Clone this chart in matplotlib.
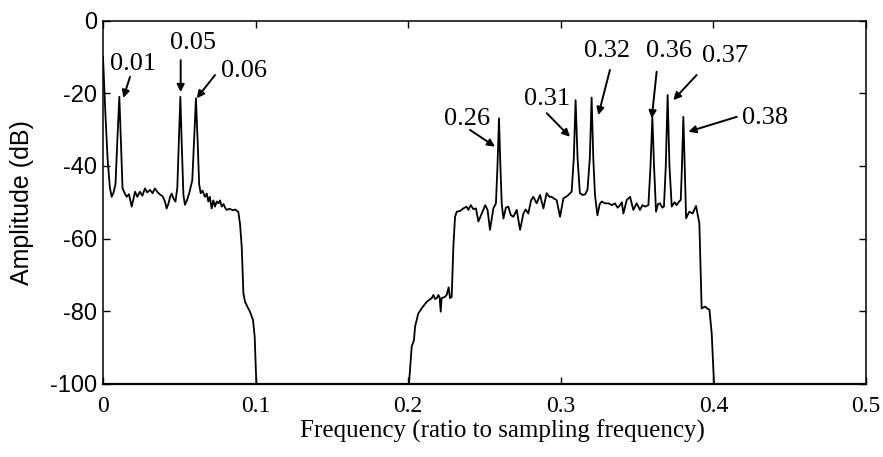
import matplotlib
matplotlib.use("Agg")
import matplotlib.pyplot as plt
import numpy as np

# ---------------- data ----------------
band1_freq = [0.0, 0.0015, 0.003, 0.0045, 0.0057, 0.0068, 0.0082, 0.0095, 0.0107, 0.0118,
              0.0128, 0.0142, 0.0155, 0.0170, 0.0188, 0.0200, 0.0210, 0.0225, 0.0242, 0.0258,
              0.0275, 0.0290, 0.0308, 0.0325, 0.0340, 0.0357, 0.0374, 0.0390, 0.0406, 0.0417,
              0.0428, 0.0440, 0.0450, 0.0462, 0.0475, 0.0487, 0.0498, 0.0507, 0.0516, 0.0527,
              0.0537, 0.0550, 0.0565, 0.0585, 0.0598, 0.0609, 0.0620, 0.0630, 0.0640, 0.0652,
              0.0668, 0.0680, 0.0690, 0.0700, 0.0712, 0.0723, 0.0734, 0.0745, 0.0756, 0.0767,
              0.0778, 0.0790, 0.0800, 0.0810, 0.0830, 0.0850, 0.0865, 0.0876, 0.0887, 0.0898,
              0.0909, 0.0920, 0.0931, 0.0947, 0.0963, 0.0983, 0.0994, 0.1005]
band1_db = [-10, -25, -38, -46, -48.5, -47.5, -45, -32, -21, -34,
            -46.2, -47.5, -48.5, -47.8, -51.2, -49, -47.1, -48.5, -47.1, -48.2,
            -46.2, -47.3, -46.6, -47.5, -46.2, -47.2, -47.9, -48.3, -49.8, -51.7,
            -50.5, -48.5, -47.6, -49.0, -49.8, -46, -32, -21, -34, -48,
            -50.7, -49.5, -47.5, -44, -32, -21.4, -33, -45, -47.5, -46.8,
            -48.5, -47.6, -49.8, -48.5, -51.7, -49.5, -51.2, -49.8, -50.3, -49.5,
            -51.2, -50.5, -51.5, -52.1, -51.8, -52.2, -52.0, -52.3, -52.7, -56,
            -62.2, -75, -77.4, -78.8, -80.1, -82.4, -87, -100]

band2_freq = [0.2005, 0.2023, 0.2038, 0.2045, 0.2066, 0.2088, 0.2121, 0.2140, 0.2154, 0.2165,
              0.2176, 0.2187, 0.2198, 0.2206, 0.2213, 0.2219, 0.2241, 0.2252, 0.2265, 0.2274,
              0.2285, 0.2296, 0.2307, 0.2318, 0.2340, 0.2361, 0.2383, 0.2394, 0.2410, 0.2427,
              0.2444, 0.2460, 0.2482, 0.2505, 0.2520, 0.2536, 0.2558, 0.2575, 0.2585, 0.2595,
              0.2604, 0.2613, 0.2624, 0.2640, 0.2656, 0.2672, 0.2689, 0.2711, 0.2733, 0.2755,
              0.2770, 0.2787, 0.2805, 0.2820, 0.2842, 0.2864, 0.2886, 0.2907, 0.2925, 0.2940,
              0.2955, 0.2973, 0.2995, 0.3017, 0.3035, 0.3049, 0.3071, 0.3085, 0.3097, 0.3110,
              0.3125, 0.3143, 0.3160, 0.3175, 0.3190, 0.3202, 0.3213, 0.3224, 0.3240, 0.3255,
              0.3268, 0.3290, 0.3312, 0.3335, 0.3355, 0.3372, 0.3388, 0.3400, 0.3410, 0.3432,
              0.3454, 0.3475, 0.3497, 0.3519, 0.3535, 0.3552, 0.3574, 0.3588, 0.3600, 0.3611,
              0.3624, 0.3637, 0.3650, 0.3665, 0.3676, 0.3688, 0.3700, 0.3712, 0.3727, 0.3745,
              0.3759, 0.3775, 0.3786, 0.3794, 0.3803, 0.3812, 0.3821, 0.3842, 0.3864, 0.3886,
              0.3908, 0.3923, 0.3945, 0.3960, 0.3974, 0.3989, 0.4004]
band2_db = [-100, -89.7, -87.9, -84.2, -80.6, -79.2, -77.4, -76.8, -76.4, -75.5,
            -76.6, -76.4, -75.5, -76.2, -80.1, -76.4, -76.0, -75.5, -73.4, -76.4,
            -76.0, -62.2, -54.0, -52.6, -52.4, -51.7, -51.2, -52.1, -50.8, -51.9,
            -51.7, -55.3, -53.1, -50.8, -52.1, -57.6, -51.7, -50.3, -40, -26.9,
            -40, -50.5, -54.5, -51.5, -51.2, -53.5, -54.0, -52.1, -57.6, -53.1,
            -52.0, -53.1, -49.5, -48.5, -50.3, -48.0, -51.7, -47.5, -48.5, -48.5,
            -49.0, -49.4, -54.0, -48.9, -48.5, -48.0, -47.1, -38, -21.9, -38,
            -47.5, -48.0, -47.8, -46.5, -38, -21.2, -38, -48.0, -53.6, -50.5,
            -49.8, -50.3, -50.3, -50.8, -50.3, -51.5, -50.8, -50.0, -53.1, -49.4,
            -48.5, -52.1, -50.3, -52.1, -50.8, -51.2, -50.8, -40, -26.5, -40,
            -52.6, -50.5, -50.3, -51.5, -51.2, -40, -20.5, -40, -51.2, -50.0,
            -50.8, -49.8, -49.4, -40, -26.5, -40, -54.4, -52.6, -53.1, -51.0,
            -55.8, -79.2, -78.7, -79.2, -79.6, -86.1, -100]

peak_labels = ["0.01", "0.05", "0.06", "0.26", "0.31", "0.32", "0.36", "0.37", "0.38"]

x_ticks = [0, 0.1, 0.2, 0.3, 0.4, 0.5]
x_ticklabels = ["0", "0.1", "0.2", "0.3", "0.4", "0.5"]
y_ticks = [0, -20, -40, -60, -80, -100]
y_ticklabels = ["0", "-20", "-40", "-60", "-80", "-100"]

# ---------------- layout (annotation placement) ----------------
label_pos = [(0.0197, -12.0), (0.0593, -6.1), (0.0921, -13.9), (0.2383, -27.1),
             (0.2908, -21.6), (0.3301, -8.4), (0.3709, -8.4), (0.4076, -9.8), (0.4338, -26.7)]
arrow_start = [(0.0177, -15.5), (0.0509, -10.9), (0.0734, -15.0), (0.2405, -30.1),
               (0.2908, -25.5), (0.3322, -13.6), (0.3628, -14.1), (0.3890, -15.0), (0.4153, -26.5)]
arrow_tip = [(0.0133, -21.3), (0.0509, -19.7), (0.0614, -21.4), (0.2569, -34.7),
             (0.3060, -32.0), (0.3246, -26.0), (0.3596, -26.9), (0.3737, -21.9), (0.3836, -30.6)]

serif = ["Liberation Serif", "DejaVu Serif"]
sans = ["Liberation Sans", "DejaVu Sans"]

fig = plt.figure(figsize=(8.83, 4.57), dpi=100)
ax = fig.add_axes([103 / 883, 1 - 384 / 457, (866 - 103) / 883, (384 - 20.5) / 457])

ax.plot(band1_freq, band1_db, color="black", lw=1.3)
ax.plot(band2_freq, band2_db, color="black", lw=1.3)

ax.set_xlim(0, 0.5)
ax.set_ylim(-100, 0)
ax.set_xticks(x_ticks)
ax.set_xticklabels(x_ticklabels, fontfamily=serif, fontsize=17)
ax.set_yticks(y_ticks)
ax.set_yticklabels(y_ticklabels, fontfamily=sans, fontsize=17)
ax.tick_params(axis="both", direction="in", length=5, width=1.0, top=True, right=True)
ax.tick_params(axis="x", pad=9)
ax.tick_params(axis="y", pad=4)
for s in ax.spines.values():
    s.set_linewidth(1.1)
ax.spines["bottom"].set_linewidth(1.6)

ax.set_xlabel("Frequency (ratio to sampling frequency)", fontfamily=serif, fontsize=18)
ax.xaxis.set_label_coords(0.524, -0.098)
ax.set_ylabel("Amplitude (dB)", fontfamily=sans, fontsize=18)
ax.yaxis.set_label_coords(-0.09, 0.5)

for lab, tp, st, tip in zip(peak_labels, label_pos, arrow_start, arrow_tip):
    ax.text(tp[0], tp[1], lab, fontfamily=serif, fontsize=19, ha="center", va="center")
    ax.annotate("", xy=tip, xytext=st,
                arrowprops=dict(arrowstyle="-|>", color="black", lw=1.4,
                                mutation_scale=11, shrinkA=0, shrinkB=0))

fig.savefig("out.png", dpi=100)
